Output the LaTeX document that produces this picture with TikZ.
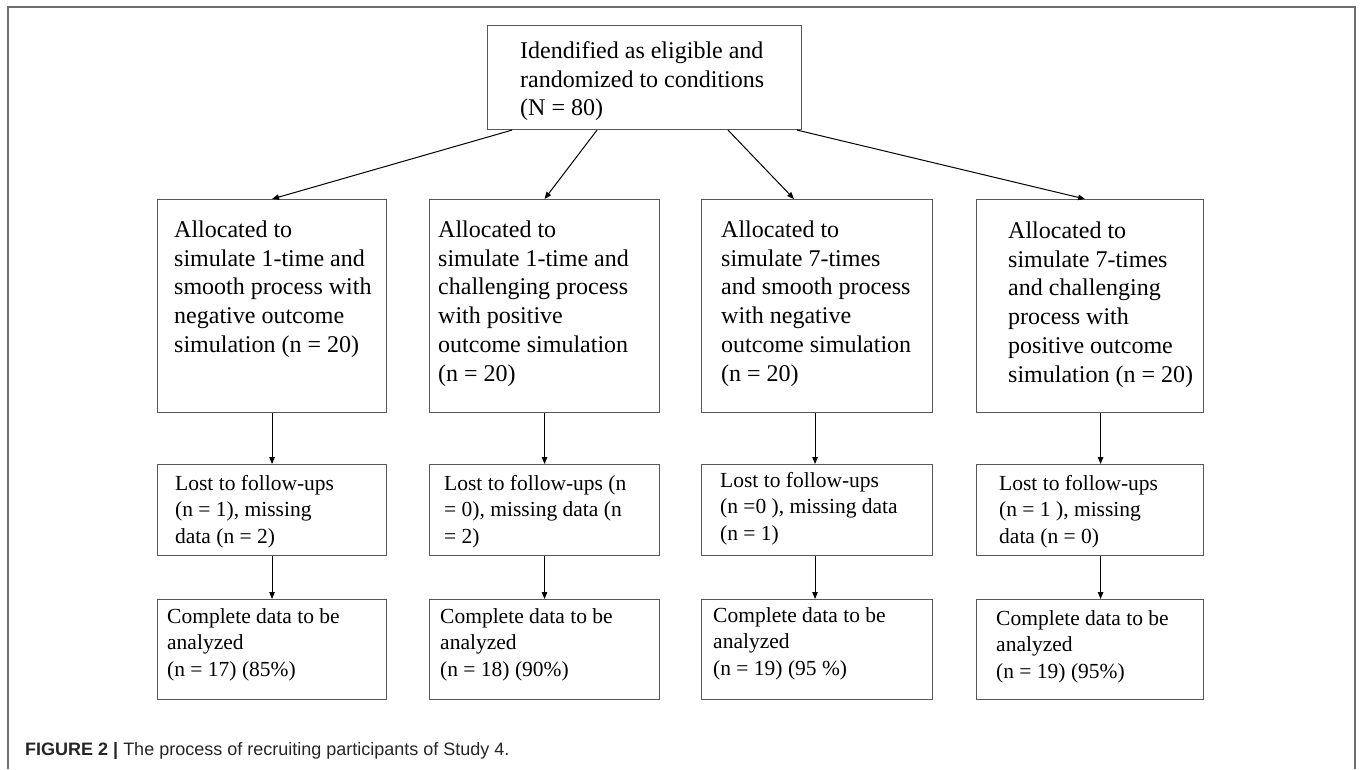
\documentclass[tikz,border=0pt]{standalone}
\usepackage{fontspec}
\setmainfont{Liberation Serif}
\newfontfamily\capfont{Liberation Sans}
\usetikzlibrary{arrows.meta,calc}
\definecolor{boxgray}{HTML}{585858}
\definecolor{framegray}{HTML}{6E6E6E}
\definecolor{capgray}{HTML}{262626}
\newcommand{\boxtext}[1]{\parbox[t]{300pt}{\raggedright #1}}
\begin{document}
\begin{tikzpicture}[x=1pt,y=-1pt,
  box/.style={draw=boxgray,line width=1.1pt,inner sep=0pt,anchor=north west},
  arr/.style={-{Triangle[length=7pt,width=5.5pt]},line width=1pt,black},
  big/.style={anchor=base west,inner sep=0pt,font=\fontsize{24}{28.7}\selectfont},
  small/.style={anchor=base west,inner sep=0pt,font=\fontsize{21.5}{26.7}\selectfont}]
\useasboundingbox (0,0) rectangle (1360,769);
\fill[white] (0,0) rectangle (1360,769);
% frame
\draw[framegray,line width=2pt] (8,769) -- (8,7) -- (1355,7) -- (1355,769);

% top box
\node[box,minimum width=314pt,minimum height=104pt] (top) at (487,25) {};
\node[big] (ttop) at (520,58.4) {\boxtext{Idendified as eligible and\\randomized to conditions\\(N = 80)}};

% row 2
\node[box,minimum width=229pt,minimum height=213pt] (b1) at (157,199) {};
\node[box,minimum width=230pt,minimum height=213pt] (b2) at (429,199) {};
\node[box,minimum width=231pt,minimum height=213pt] (b3) at (701,199) {};
\node[box,minimum width=227pt,minimum height=213pt] (b4) at (976,199) {};
\node[big] (tb1) at (174,237.5) {\boxtext{Allocated to\\simulate 1-time and\\smooth process with\\negative outcome\\simulation (n = 20)}};
\node[big] (tb2) at (438,237.5) {\boxtext{Allocated to\\simulate 1-time and\\challenging process\\with positive\\outcome simulation\\(n = 20)}};
\node[big] (tb3) at (721,237.5) {\boxtext{Allocated to\\simulate 7-times\\and smooth process\\with negative\\outcome simulation\\(n = 20)}};
\node[big] (tb4) at (1008,238.5) {\boxtext{Allocated to\\simulate 7-times\\and challenging\\process with\\positive outcome\\simulation (n = 20)}};

% row 3
\node[box,minimum width=229pt,minimum height=91pt] (l1) at (157,464) {};
\node[box,minimum width=230pt,minimum height=91pt] (l2) at (429,464) {};
\node[box,minimum width=231pt,minimum height=91pt] (l3) at (701,464) {};
\node[box,minimum width=227pt,minimum height=91pt] (l4) at (976,464) {};
\node[small] (tl1) at (175,490) {\boxtext{Lost to follow-ups\\(n = 1), missing\\data (n = 2)}};
\node[small] (tl2) at (444,490) {\boxtext{Lost to follow-ups (n\\= 0), missing data (n\\= 2)}};
\node[small] (tl3) at (720,487) {\boxtext{Lost to follow-ups\\(n =0 ), missing data\\(n = 1)}};
\node[small] (tl4) at (999,490) {\boxtext{Lost to follow-ups\\(n = 1 ), missing\\data (n = 0)}};

% row 4
\node[box,minimum width=229pt,minimum height=100pt] (c1) at (157,599) {};
\node[box,minimum width=230pt,minimum height=100pt] (c2) at (429,599) {};
\node[box,minimum width=231pt,minimum height=100pt] (c3) at (701,599) {};
\node[box,minimum width=227pt,minimum height=100pt] (c4) at (976,599) {};
\node[small] (tc1) at (167,623) {\boxtext{Complete data to be\\analyzed\\(n = 17) (85\%)}};
\node[small] (tc2) at (440,623) {\boxtext{Complete data to be\\analyzed\\(n = 18) (90\%)}};
\node[small] (tc3) at (713,622) {\boxtext{Complete data to be\\analyzed\\(n = 19) (95 \%)}};
\node[small] (tc4) at (996,625) {\boxtext{Complete data to be\\analyzed\\(n = 19) (95\%)}};

% arrows from top
\draw[arr] ([xshift=25pt]top.south west) -- (b1.north);
\draw[arr] ([xshift=110pt]top.south west) -- (b2.north);
\draw[arr] ([xshift=241pt]top.south west) -- ([xshift=93pt]b3.north west);
\draw[arr] ([xshift=-5pt]top.south east) -- ([xshift=-5pt]b4.north);

% vertical arrows
\draw[arr] (b1.south) -- (l1.north);
\draw[arr] (b2.south) -- (l2.north);
\draw[arr] ([xshift=-2pt]b3.south) -- ([xshift=-2pt]l3.north);
\draw[arr] ([xshift=10.5pt]b4.south) -- ([xshift=10.5pt]l4.north);
\draw[arr] (l1.south) -- (c1.north);
\draw[arr] (l2.south) -- (c2.north);
\draw[arr] ([xshift=-2pt]l3.south) -- ([xshift=-2pt]c3.north);
\draw[arr] ([xshift=10.5pt]l4.south) -- ([xshift=10.5pt]c4.north);

% caption
\node[anchor=base west,inner sep=0pt,font=\capfont\fontsize{18}{20}\selectfont,text=capgray] (cap) at (25,755)
  {\textbf{FIGURE 2} \textbf{|} The process of recruiting participants of Study 4.};
\end{tikzpicture}
\end{document}
